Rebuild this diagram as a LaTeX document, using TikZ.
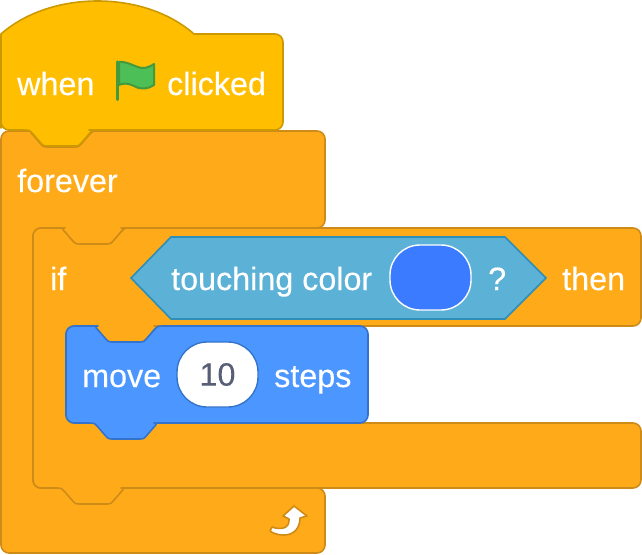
\documentclass[tikz,border=0pt]{standalone}
\usepackage{fontspec}
\setmainfont{Liberation Sans}
\newfontfamily\blockfont[FakeBold=0.25]{Liberation Sans}
\definecolor{hat fill}{HTML}{FFBF00}
\definecolor{hat line}{HTML}{CC9900}
\definecolor{control fill}{HTML}{FFAB19}
\definecolor{control line}{HTML}{CF8B17}
\definecolor{motion fill}{HTML}{4C97FF}
\definecolor{motion line}{HTML}{3373CC}
\definecolor{sensing fill}{HTML}{5CB1D6}
\definecolor{sensing line}{HTML}{2E8EB8}
\definecolor{swatch fill}{HTML}{3A7BFF}
\definecolor{value text}{HTML}{575E75}
\definecolor{flag fill}{HTML}{4CBF56}
\definecolor{flag line}{HTML}{45993D}
\newcommand{\notchright}{[sharp corners]
  .. controls +(5,0) and +(-3,-3) .. ++(8,4) -- ++(6,7)
  .. controls +(3,3) and +(-5,0) .. ++(8,5) -- ++(28,0)
  .. controls +(5,0) and +(-3,3) .. ++(8,-5) -- ++(6,-7)
  .. controls +(3,-3) and +(-5,0) .. ++(8,-4) [rounded corners=8pt]}
\newcommand{\notchleft}{[sharp corners]
  .. controls +(-5,0) and +(3,-3) .. ++(-8,4) -- ++(-6,7)
  .. controls +(-3,3) and +(5,0) .. ++(-8,5) -- ++(-28,0)
  .. controls +(-5,0) and +(3,3) .. ++(-8,-5) -- ++(-6,-7)
  .. controls +(-3,-3) and +(5,0) .. ++(-8,-4) [rounded corners=8pt]}
\tikzset{
  block/.style={line width=1.6pt, line join=round, rounded corners=8pt},
  hat block/.style={line width=1.6pt, line join=round, fill=hat fill, draw=hat line},
  control block/.style={block, fill=control fill, draw=control line},
  motion block/.style={block, fill=motion fill, draw=motion line},
  sensing block/.style={line width=1.6pt, line join=miter, fill=sensing fill, draw=sensing line},
  label/.style={anchor=base west, inner sep=0pt, text=white, font=\blockfont\fontsize{32.3}{32.3}\selectfont},
  value field/.style={rectangle, rounded corners=30pt, line width=1.4pt, inner sep=0pt,
    minimum width=81pt, minimum height=65pt, font=\blockfont\fontsize{32.3}{32.3}\selectfont}
}
\begin{document}
\begin{tikzpicture}[x=1pt, y=-1pt]
  \useasboundingbox (0,0) rectangle (642,554);
  % forever
  \draw[control block] (1,131) -- (25,131) \notchright -- (325,131) -- (325,228)
    -- (129,228) \notchleft -- (33,228) -- (33,488) -- (325,488) -- (325,553) -- (1,553) -- cycle;
  % if
  \draw[control block] (33,228) -- (57,228) \notchright -- (641,228) -- (641,326)
    -- (162,326) \notchleft -- (66,326) -- (66,423) -- (641,423) -- (641,488) -- (129,488) \notchleft
    -- (33,488) -- cycle;
  % hat
  \draw[hat block] (1,34) .. controls (51,-10) and (144,-10) .. (194,34)
    [rounded corners=8pt] -- (283,34) -- (283,130) -- (97,130) \notchleft
    -- (1,130) -- (1,120) [sharp corners] -- cycle;
  % motion
  \draw[motion block] (66,326) -- (90,326) \notchright -- (368,326) -- (368,423)
    -- (162,423) \notchleft -- (66,423) -- cycle;
  % sensing
  \draw[sensing block] (131,278) -- (171,237) -- (505,237) -- (546,278)
    -- (505,319) -- (171,319) -- cycle;
  % flag
  \draw[flag line, line width=3.4pt, line cap=round] (117.5,62) -- (117.5,99.5);
  \draw[fill=flag fill, draw=flag line, line width=2pt, line join=round] (119,62)
    .. controls (128,61) and (136,68) .. (143,68)
    .. controls (147,68) and (151,66) .. (154,64) -- (154,85)
    .. controls (148,89) and (141,90) .. (134,86)
    .. controls (128,83) and (123,83) .. (119,85) -- cycle;
  % return arrow
  \draw[fill=white, draw=control line, line width=1.6pt, line join=round] (294,506)
    -- (307,516) -- (300,518)
    .. controls (300,528) and (294,535) .. (284,535)
    .. controls (279,535) and (274,534) .. (270,531) -- (272,527)
    .. controls (280,530) and (290,529) .. (289,519) -- (283,516) -- cycle;
  \node[label] (when) at (17,95) {when};
  \node[label] (clicked) at (167,95) {clicked};
  \node[label] (forever) at (17,192) {forever};
  \node[label] (if) at (50,290) {if};
  \node[label] (touching) at (171,290) {touching color};
  \node[label] (question) at (488,290) {?};
  \node[label] (then) at (562,290) {then};
  \node[label] (move) at (82,387) {move};
  \node[label] (steps) at (274,387) {steps};
  \node[value field, fill=swatch fill, draw=white] (swatch) at (430.5,277.5) {};
  \node[value field, fill=white, draw=motion line, text=value text] (steps value) at (217.5,374.5) {\raisebox{-1.5pt}{10}};
\end{tikzpicture}
\end{document}
